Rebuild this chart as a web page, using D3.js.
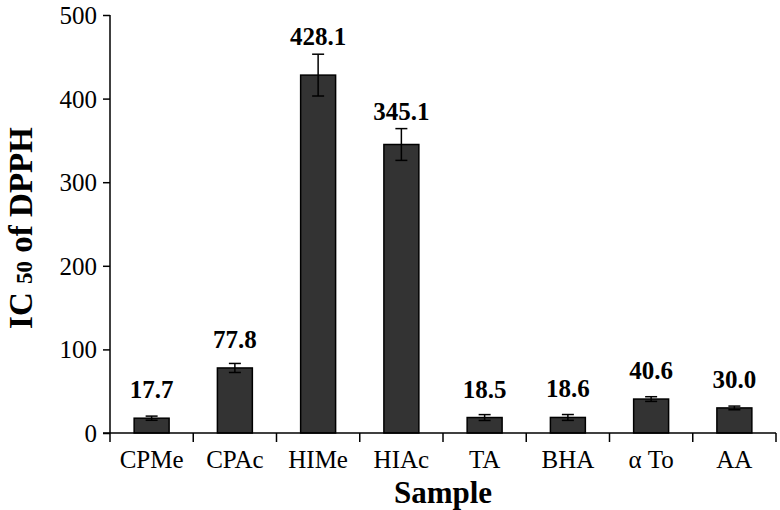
<!DOCTYPE html>
<html>
<head>
<meta charset="utf-8">
<script src="https://cdn.jsdelivr.net/npm/d3@7"></script>
<style>
  html, body { margin: 0; padding: 0; background: #fff; }
  svg { display: block; }
  svg text { font-family: "Times New Roman", Times, "Liberation Serif", serif !important; fill: #000; }
</style>
</head>
<body>
<svg id="chart" width="780" height="510"></svg>
<script>
const categories = ["CPMe", "CPAc", "HIMe", "HIAc", "TA", "BHA", "\u03b1 To", "AA"];
const values = [17.7, 77.8, 428.1, 345.1, 18.5, 18.6, 40.6, 30.0];
const errors = [2.5, 5.4, 25, 19, 3.5, 3.5, 2.8, 2.2];
const yTicks = [0, 100, 200, 300, 400, 500];

const svg = d3.select("#chart");
const mLeft = 110, mRight = 776, mTop = 15, mBottom = 433;

const x = d3.scaleBand().domain(categories).range([mLeft, mRight]).paddingInner(0).paddingOuter(0);
const y = d3.scaleLinear().domain([0, 500]).range([mBottom, mTop]);

const data = categories.map((c, i) => ({ c, v: values[i], e: errors[i] }));
const barW = x.bandwidth() * 0.42;

// bars
svg.append("g").selectAll("rect").data(data).join("rect")
  .attr("x", d => x(d.c) + x.bandwidth() / 2 - barW / 2)
  .attr("y", d => y(d.v))
  .attr("width", barW)
  .attr("height", d => y(0) - y(d.v))
  .attr("fill", "#333333")
  .attr("stroke", "#000")
  .attr("stroke-width", 1.5);

// error bars
const eg = svg.append("g").attr("stroke", "#000").attr("stroke-width", 1.5);
const capW = 12;
data.forEach(d => {
  const cx = x(d.c) + x.bandwidth() / 2;
  eg.append("line").attr("x1", cx).attr("x2", cx).attr("y1", y(d.v + d.e)).attr("y2", y(d.v - d.e));
  eg.append("line").attr("x1", cx - capW / 2).attr("x2", cx + capW / 2).attr("y1", y(d.v + d.e)).attr("y2", y(d.v + d.e));
  eg.append("line").attr("x1", cx - capW / 2).attr("x2", cx + capW / 2).attr("y1", y(d.v - d.e)).attr("y2", y(d.v - d.e));
});

// value labels
svg.append("g").selectAll("text").data(data).join("text")
  .attr("x", d => x(d.c) + x.bandwidth() / 2)
  .attr("y", d => Math.min(y(d.v) - 20, y(d.v + d.e) - 9))
  .attr("text-anchor", "middle")
  .attr("font-weight", "bold")
  .attr("font-size", 25)
  .text(d => d.v.toFixed(1));

// y axis
const yAxis = svg.append("g").attr("transform", `translate(${mLeft},0)`)
  .call(d3.axisLeft(y).tickValues(yTicks).tickSize(7).tickPadding(6).tickFormat(d3.format("d")));
yAxis.attr("font-family", null);
yAxis.select(".domain").attr("d", `M0,${mBottom}V${mTop}`).attr("stroke", "#000").attr("stroke-width", 1.5);
yAxis.selectAll(".tick line").attr("stroke", "#000").attr("stroke-width", 1.5);
yAxis.selectAll("text").attr("font-size", 25).attr("dy", "0.34em");

// x axis
const xg = svg.append("g").attr("transform", `translate(0,${mBottom})`);
xg.append("line").attr("x1", mLeft - 7).attr("x2", mRight).attr("y1", 0).attr("y2", 0)
  .attr("stroke", "#000").attr("stroke-width", 1.5);
const bounds = categories.map(c => x(c)).concat([x(categories[categories.length - 1]) + x.bandwidth()]);
xg.selectAll("line.tk").data(bounds).join("line").attr("class", "tk")
  .attr("x1", d => d).attr("x2", d => d).attr("y1", 0).attr("y2", 9)
  .attr("stroke", "#000").attr("stroke-width", 1.5);
xg.selectAll("text").data(categories).join("text")
  .attr("x", d => x(d) + x.bandwidth() / 2)
  .attr("y", 35)
  .attr("text-anchor", "middle")
  .attr("font-size", 25)
  .text(d => d);

// axis titles
svg.append("text")
  .attr("x", (mLeft + mRight) / 2).attr("y", 503)
  .attr("text-anchor", "middle").attr("font-weight", "bold").attr("font-size", 31)
  .text("Sample");

const yt = svg.append("text")
  .attr("transform", "translate(32,228) rotate(-90)")
  .attr("text-anchor", "middle").attr("font-weight", "bold").attr("font-size", 33);
yt.append("tspan").text("IC ");
yt.append("tspan").attr("font-size", 23).text("50");
yt.append("tspan").text(" of DPPH");
</script>
</body>
</html>
